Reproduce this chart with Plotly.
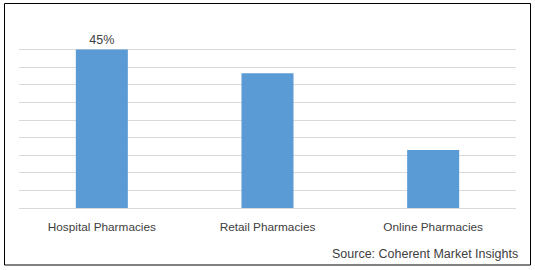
import plotly.graph_objects as go

categories = ["Hospital Pharmacies", "Retail Pharmacies", "Online Pharmacies"]
shares = [45, 38.3, 16.5]
labels = ["45%", "", ""]

W, H = 535, 270
L, R, T, B = 19, 19, 32, 62

fig = go.Figure(go.Bar(
    x=categories, y=shares, text=labels, textposition="outside",
    marker=dict(color="#5b9bd5", line=dict(width=0)),
    textfont=dict(size=12.5, color="#404040", family="Liberation Sans"),
    cliponaxis=False, hoverinfo="skip",
))

pw, ph = W - L - R, H - T - B
def px(x): return (x - L) / pw
def py(y): return (H - B - y) / ph

fig.update_layout(
    width=W, height=H, margin=dict(l=L, r=R, t=T, b=B),
    paper_bgcolor="white", plot_bgcolor="white",
    bargap=0.686, showlegend=False,
    font=dict(family="Liberation Sans", size=11, color="#404040"),
    xaxis=dict(showgrid=False, showline=False, ticks="", ticklabelstandoff=10,
               tickfont=dict(size=11.8, color="#404040")),
    yaxis=dict(range=[0, 50], dtick=5, showgrid=True, gridcolor="#d9d9d9", gridwidth=1,
               zeroline=True, zerolinecolor="#d9d9d9", zerolinewidth=1,
               showticklabels=False, ticks=""),
    shapes=[dict(type="rect", xref="paper", yref="paper",
                 x0=px(4.5), x1=px(530.5), y0=py(265), y1=py(3.5),
                 line=dict(color="black", width=1), fillcolor="rgba(0,0,0,0)", layer="above")],
    annotations=[dict(text="Source: Coherent Market Insights", xref="paper", yref="paper",
                      x=px(520), y=py(254), xanchor="right", yanchor="middle", showarrow=False,
                      font=dict(size=12.5, color="#404040"))],
)

fig.write_html("out.html")
